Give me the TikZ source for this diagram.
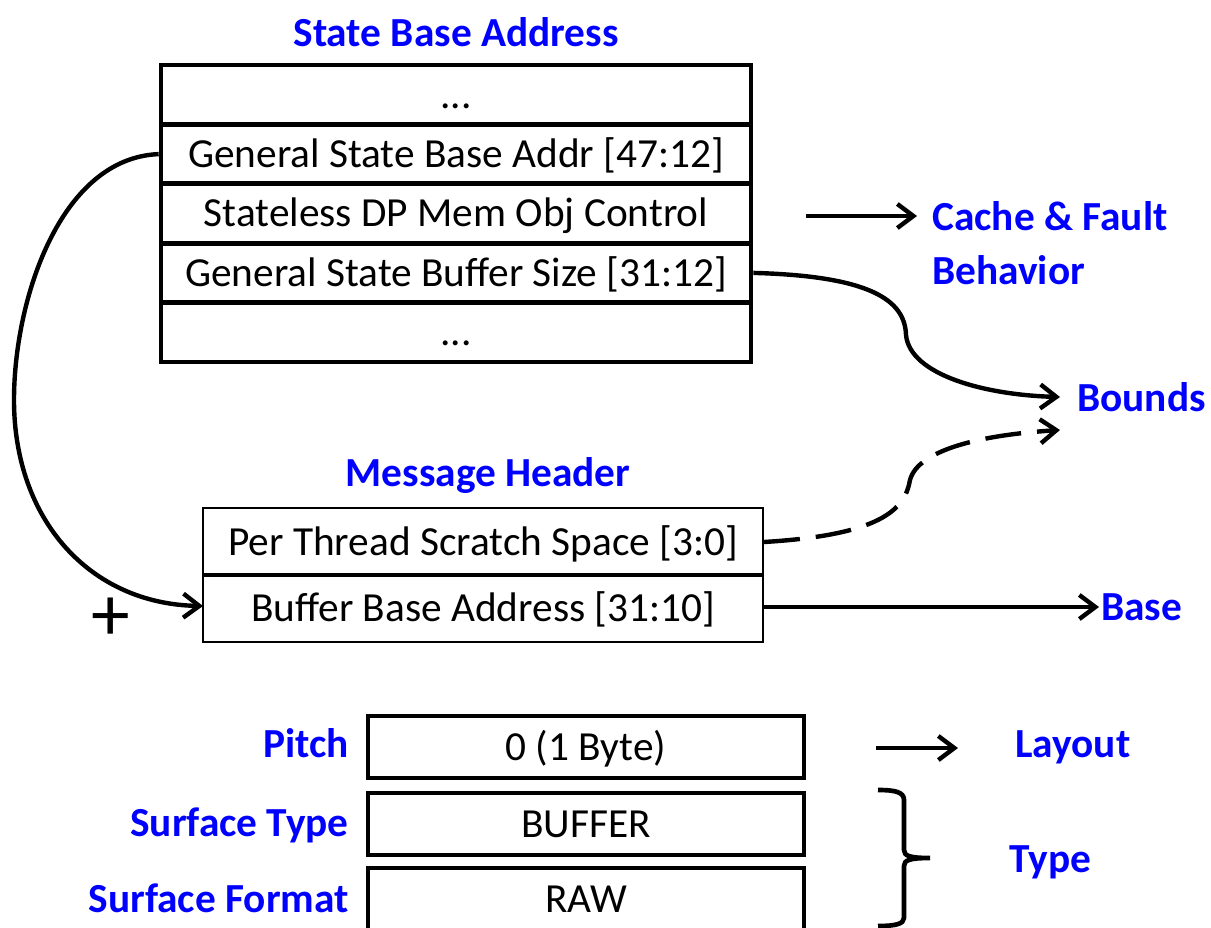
\documentclass[tikz,border=0pt]{standalone}
\usepackage{fontspec}
\setmainfont{Carlito}
\usetikzlibrary{arrows.meta}
\definecolor{lblue}{RGB}{0,0,255}
\begin{document}
\begin{tikzpicture}[x=0.75pt,y=-0.75pt,
  every node/.style={font=\fontsize{31pt}{37pt}\selectfont, inner sep=0pt},
  rowtext/.style={text height=26pt, text depth=6pt},
  sbarow/.style={rowtext, draw, line width=3.5pt, minimum width=442.5pt, minimum height=44.55pt, anchor=center},
  mhrow/.style={rowtext, draw, line width=1.5pt, minimum width=420pt, minimum height=51pt, anchor=center},
  surfrow/.style={rowtext, draw, line width=3.5pt, minimum width=327pt, minimum height=46.5pt, anchor=center},
  bluelbl/.style={text=lblue, font=\fontsize{31pt}{40.5pt}\selectfont\bfseries},
  arr/.style={line width=3.3pt, -{Straight Barb[length=12pt,width=18pt,line width=3.3pt]}},
  bracestyle/.style={line width=3.5pt, line join=round}
]
\useasboundingbox (0,0) rectangle (1211,928);

% State Base Address
\node[bluelbl] (sbatitle) at (456,32) {State Base Address};
\node[sbarow] (r1) at (456,94.7) {...};
\node[sbarow] (gsba) at (456,154.1) {General State Base Addr [47:12]};
\node[sbarow] (sdp) at (456,213.5) {Stateless DP Mem Obj Control};
\node[sbarow] (gsbs) at (456,272.9) {General State Buffer Size [31:12]};
\node[sbarow] (r5) at (456,332.3) {...};

% right labels
\node[bluelbl, align=left, anchor=west] (cache) at (932,243) {Cache \& Fault\\Behavior};
\node[bluelbl, anchor=west] (bounds) at (1077,397) {Bounds};
\node[bluelbl, anchor=west] (base) at (1101,607) {Base};

% Message header
\node[bluelbl] (mhtitle) at (488,475) {Message Header};
\node[mhrow] (pts) at (483,542) {Per Thread Scratch Space [3:0]};
\node[mhrow] (bba) at (483,608) {Buffer Base Address [31:10]};
\node[font=\fontsize{58pt}{60pt}\selectfont] (plus) at (111,619) {+};

% Surface state
\node[surfrow] (pitch) at (586,747) {0 (1 Byte)};
\node[surfrow] (buf) at (586,824) {BUFFER};
\node[surfrow] (raw) at (586,899) {RAW};
\node[bluelbl, anchor=east] (pitchl) at (349,743) {Pitch};
\node[bluelbl, anchor=east] (stype) at (349,825) {Surface Type};
\node[bluelbl, anchor=east] (sfmt) at (349,898) {Surface Format};
\node[bluelbl, anchor=west] (layout) at (1015,747) {Layout};
\node[bluelbl, anchor=west] (type) at (1009,862) {Type};

% connectors
\coordinate (ca) at (806,216);
\coordinate (cb) at (917,216);
\draw[arr] (ca) -- (cb);

\coordinate (bt) at (1060,397);
\draw[arr] (gsbs.east) .. controls (870,276) and (905,300) .. (906,335)
   .. controls (910,375) and (985,395) .. (bt);

\coordinate (bt2) at (1060,430);
\draw[arr, dash pattern=on 27pt off 12pt] (pts.east) .. controls (880,535) and (905,510) .. (910,480)
   .. controls (918,450) and (980,435) .. (bt2);

\coordinate (bst) at (1099,607);
\draw[arr] (bba.east |- bst) -- (bst);

\coordinate (ba) at (203,606);
\draw[arr] (gsba.west) .. controls (60,158) and (14,300) .. (14,400)
   .. controls (14,520) and (90,604) .. (ba);

\coordinate (la) at (876,748);
\coordinate (lb) at (958,748);
\draw[arr] (la) -- (lb);

% brace
\coordinate (bra) at (878,790);
\coordinate (brt) at (930,858);
\coordinate (brb) at (878,926);
\draw[bracestyle] (bra) .. controls (895,790) and (904,792) .. (904,800) -- (904,850)
   .. controls (904,856) and (910,858) .. (brt)
   (brt) .. controls (910,858) and (904,860) .. (904,866) -- (904,918)
   .. controls (904,924) and (895,926) .. (brb);
\end{tikzpicture}
\end{document}
